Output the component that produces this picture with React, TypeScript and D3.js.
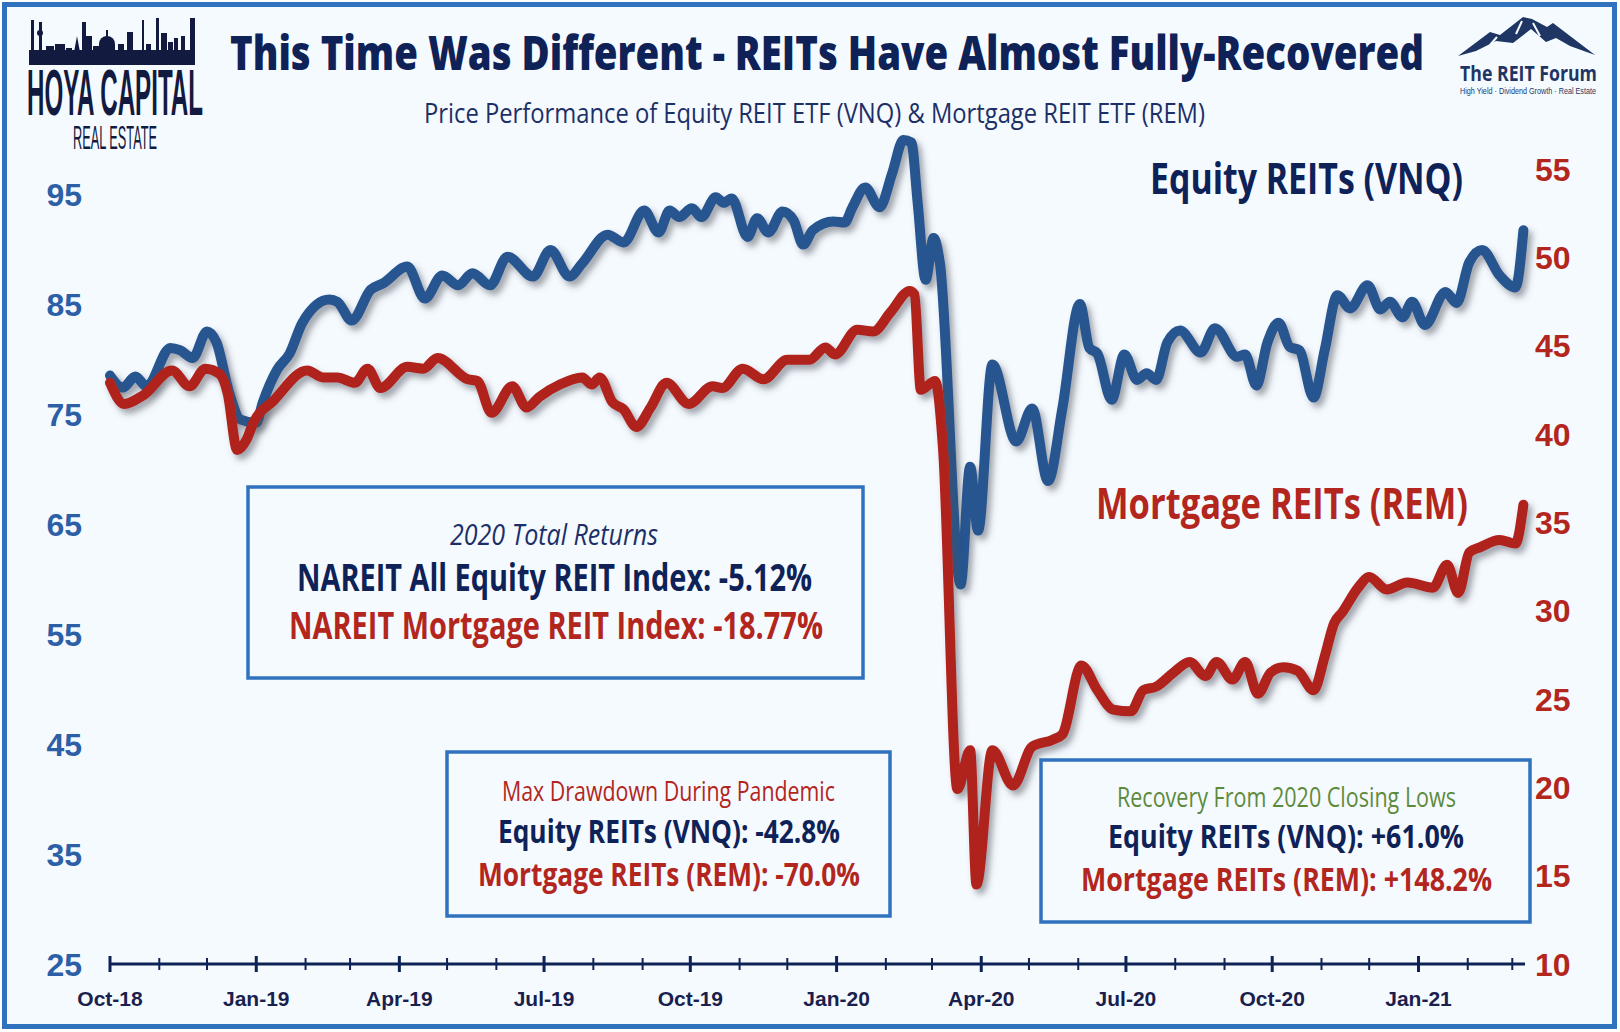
import React from "react";
import * as d3 from "d3";

// VNQ weekly-ish price (left axis)
const vnqDates = [
  "2018-10-01", "2018-10-09", "2018-10-17", "2018-10-24", "2018-11-08", "2018-11-14", "2018-11-22",
  "2018-12-01", "2018-12-07", "2018-12-15", "2018-12-22", "2019-01-01", "2019-01-05", "2019-01-14",
  "2019-01-22", "2019-01-30", "2019-02-16", "2019-02-21", "2019-03-02", "2019-03-14", "2019-03-22",
  "2019-04-06", "2019-04-17", "2019-04-28", "2019-05-08", "2019-05-17", "2019-05-28", "2019-06-08",
  "2019-06-24", "2019-07-05", "2019-07-17", "2019-07-25", "2019-08-10", "2019-08-20", "2019-09-02",
  "2019-09-11", "2019-09-18", "2019-09-24", "2019-10-02", "2019-10-08", "2019-10-17", "2019-10-22",
  "2019-10-27", "2019-11-06", "2019-11-12", "2019-11-19", "2019-11-28", "2019-12-05", "2019-12-11",
  "2019-12-17", "2019-12-30", "2020-01-06", "2020-01-11", "2020-01-19", "2020-01-28", "2020-02-05",
  "2020-02-12", "2020-02-17", "2020-02-21", "2020-02-26", "2020-03-02", "2020-03-06", "2020-03-19",
  "2020-03-25", "2020-03-30", "2020-04-08", "2020-04-23", "2020-05-03", "2020-05-13", "2020-05-22",
  "2020-06-02", "2020-06-08", "2020-06-13", "2020-06-22", "2020-06-30", "2020-07-08", "2020-07-14",
  "2020-07-20", "2020-07-27", "2020-08-04", "2020-08-17", "2020-08-26", "2020-09-09", "2020-09-14",
  "2020-09-21", "2020-09-28", "2020-10-05", "2020-10-12", "2020-10-18", "2020-10-27", "2020-11-03",
  "2020-11-11", "2020-11-19", "2020-11-30", "2020-12-08", "2020-12-14", "2020-12-22", "2020-12-28",
  "2021-01-05", "2021-01-18", "2021-01-25", "2021-02-02", "2021-02-10", "2021-02-21", "2021-03-03",
  "2021-03-08",
];
const vnqValues = [
  78.5, 77.4, 78.4, 77.5, 81.0, 80.8, 80.1,
  82.5, 81.5, 76.9, 74.5, 74.2, 76.0, 79.0,
  80.5, 83.3, 85.4, 85.2, 83.5, 86.3, 86.9,
  88.4, 85.5, 87.6, 86.7, 87.8, 86.7, 89.3,
  87.5, 89.9, 87.5, 88.7, 91.3, 90.6, 93.5,
  91.5, 93.5, 92.9, 93.7, 92.9, 94.7, 94.2,
  94.6, 91.1, 92.8, 91.5, 93.4, 92.6, 90.4,
  91.7, 92.5, 92.4, 93.8, 95.6, 93.8, 96.9,
  99.9, 99.7, 94.2, 87.2, 91.0, 88.7, 59.5,
  70.2, 64.4, 79.5, 72.5, 75.5, 68.9, 75.5,
  85.0, 81.0, 80.5, 76.3, 80.4, 78.1, 78.7,
  78.1, 81.5, 82.6, 80.6, 82.8, 80.2, 80.4,
  77.6, 81.5, 83.3, 81.1, 80.8, 76.5, 80.8,
  85.8, 84.6, 86.7, 84.5, 85.2, 83.8, 85.2,
  83.1, 86.1, 85.1, 88.8, 89.9, 87.6, 86.5,
  91.7,
];

// REM weekly-ish price (right axis)
const remDates = [
  "2018-10-01", "2018-10-10", "2018-10-22", "2018-11-09", "2018-11-20", "2018-11-30", "2018-12-09",
  "2018-12-14", "2018-12-20", "2018-12-26", "2018-12-30", "2019-01-12", "2019-02-02", "2019-02-12",
  "2019-02-21", "2019-03-04", "2019-03-12", "2019-03-20", "2019-04-06", "2019-04-16", "2019-04-25",
  "2019-05-14", "2019-05-20", "2019-05-29", "2019-06-11", "2019-06-20", "2019-06-28", "2019-07-11",
  "2019-07-25", "2019-07-31", "2019-08-05", "2019-08-13", "2019-08-20", "2019-08-28", "2019-09-06",
  "2019-09-16", "2019-09-30", "2019-10-15", "2019-10-21", "2019-11-03", "2019-11-16", "2019-12-01",
  "2019-12-15", "2019-12-25", "2019-12-31", "2020-01-14", "2020-01-24", "2020-02-04", "2020-02-16",
  "2020-02-19", "2020-02-23", "2020-03-03", "2020-03-08", "2020-03-17", "2020-03-25", "2020-03-29",
  "2020-04-08", "2020-04-21", "2020-05-03", "2020-05-16", "2020-05-22", "2020-06-03", "2020-06-13",
  "2020-06-23", "2020-07-04", "2020-07-12", "2020-07-20", "2020-07-31", "2020-08-10", "2020-08-20",
  "2020-08-27", "2020-09-06", "2020-09-14", "2020-09-22", "2020-09-30", "2020-10-08", "2020-10-17",
  "2020-10-27", "2020-11-03", "2020-11-09", "2020-11-14", "2020-11-24", "2020-12-01", "2020-12-12",
  "2020-12-25", "2021-01-10", "2021-01-19", "2021-01-26", "2021-02-02", "2021-02-09", "2021-02-21",
  "2021-03-03", "2021-03-08",
];
const remValues = [
  42.9, 41.7, 42.2, 43.6, 42.7, 43.7, 43.4,
  42.3, 39.1, 39.7, 40.6, 41.9, 43.6, 43.2,
  43.2, 42.9, 43.7, 42.6, 43.8, 43.7, 44.3,
  43.1, 43.0, 41.2, 42.7, 41.5, 42.1, 42.8,
  43.2, 42.8, 43.2, 41.8, 41.4, 40.4, 41.5,
  42.9, 41.7, 42.7, 42.6, 43.7, 43.1, 44.2,
  44.2, 44.9, 44.5, 45.9, 45.8, 46.9, 48.1,
  47.9, 42.5, 43.0, 39.1, 19.9, 22.1, 14.5,
  22.1, 20.1, 22.3, 22.7, 23.0, 26.9, 25.5,
  24.4, 24.3, 25.5, 25.7, 26.5, 27.1, 26.3,
  27.1, 26.1, 27.1, 25.3, 26.5, 26.8, 26.6,
  25.5, 27.4, 29.3, 29.9, 31.3, 31.9, 31.2,
  31.6, 31.3, 32.6, 31.0, 33.3, 33.6, 34.0,
  33.8, 36.0,
];

const leftTicks = [25, 35, 45, 55, 65, 75, 85, 95];
const rightTicks = [10, 15, 20, 25, 30, 35, 40, 45, 50, 55];

const NAVY = "#0f2257";
const BLUE = "#27558f";
const RED = "#b0231c";
const RED_TXT = "#b3261e";
const FRAME = "#3072bd";
const BG = "#f5faff";
const SANS = "'Open Sans', 'Noto Sans', sans-serif";
const NARROW = "'Liberation Sans Narrow', 'Liberation Sans', Arial, sans-serif";

// skyline of the Hoya logo: [x, width, top]
const skyline: [number, number, number][] = [
  [31, 3, 20], [39, 3, 22], [46, 8, 46], [55, 10, 44], [66, 6, 48], [82, 4, 22], [86, 6, 36],
  [93, 6, 46], [118, 6, 44], [127, 6, 32], [142, 2, 20], [146, 5, 44], [156, 3, 18], [161, 6, 33],
  [168, 5, 42], [174, 4, 38], [181, 4, 36], [190, 5, 18],
];

function App() {
  const parse = d3.timeParse("%Y-%m-%d");
  const x = d3
    .scaleTime()
    .domain([parse("2018-10-01") as Date, parse("2021-03-09") as Date])
    .range([110, 1525]);
  const yL = d3.scaleLinear().domain([25, 95]).range([964, 194]);
  const yR = d3.scaleLinear().domain([10, 55]).range([964, 169]);

  const vnqLine = d3
    .line<number>()
    .x((_, i) => x(parse(vnqDates[i]) as Date))
    .y((d) => yL(d))
    .curve(d3.curveMonotoneX)(vnqValues);
  const remLine = d3
    .line<number>()
    .x((_, i) => x(parse(remDates[i]) as Date))
    .y((d) => yR(d))
    .curve(d3.curveMonotoneX)(remValues);

  const months = d3.timeMonth.range(parse("2018-10-01") as Date, parse("2021-03-02") as Date);
  const fmt = d3.timeFormat("%b-%y");
  const axisY = 964;

  return (
    <svg
      width={1620}
      height={1032}
      style={{ position: "absolute", left: 0, top: 0, display: "block" }}
    >
      <defs>
        <filter id="shadow" x="-5%" y="-10%" width="110%" height="125%">
          <feDropShadow dx="4" dy="5" stdDeviation="3" floodColor="#4a4f5a" floodOpacity="0.5" />
        </filter>
      </defs>
      <rect x={4.5} y={4.5} width={1610} height={1022} fill={BG} stroke={FRAME} strokeWidth={5} />

      {/* Hoya Capital logo */}
      <g fill="#131a40">
        <rect x={29} y={50} width={166} height={15} />
        {skyline.map(([bx, bw, top], i) => (
          <rect key={i} x={bx} y={top} width={bw} height={52 - top} />
        ))}
        <ellipse cx={107} cy={44} rx={8} ry={8} />
        <rect x={99} y={44} width={16} height={8} />
        <rect x={106} y={30} width={2} height={8} />
        <circle cx={40} cy={33} r={3} />
        <path d="M74 52 L77 36 L80 52 Z" />
      </g>
      <text
        x={27}
        y={115}
        fontFamily={NARROW}
        fontWeight={700}
        fontSize={64}
        fill="#131a40"
        textLength={176}
        lengthAdjust="spacingAndGlyphs"
      >
        HOYA CAPITAL
      </text>
      <text
        x={73}
        y={149}
        fontFamily={NARROW}
        fontWeight={400}
        fontSize={34}
        fill="#131a40"
        textLength={84}
        lengthAdjust="spacingAndGlyphs"
      >
        REAL ESTATE
      </text>

      {/* REIT Forum logo */}
      <path
        d="M1458 56 L1490 32 L1500 35 L1523 17 L1532 19 L1547 27 L1553 23 L1595 55 L1570 46 L1556 38 L1546 42 L1531 29 L1513 43 L1496 41 L1476 51 Z"
        fill="#1f3563"
      />
      <path d="M1522 21 L1516 34 M1533 23 L1540 36 M1497 37 L1490 45" stroke={BG} strokeWidth={2} />
      <text
        x={1460}
        y={81}
        fontFamily={SANS}
        fontWeight={700}
        fontSize={22}
        fill="#1f3563"
        textLength={137}
        lengthAdjust="spacingAndGlyphs"
      >
        The REIT Forum
      </text>
      <text
        x={1460}
        y={94}
        fontFamily={NARROW}
        fontSize={9}
        fill="#1f3563"
        textLength={136}
        lengthAdjust="spacingAndGlyphs"
      >
        High Yield · Dividend Growth · Real Estate
      </text>

      {/* titles */}
      <text
        x={230}
        y={70}
        fontFamily={SANS}
        fontWeight={800}
        fontSize={48}
        fill={NAVY}
        textLength={1194}
        lengthAdjust="spacingAndGlyphs"
      >
        This Time Was Different - REITs Have Almost Fully-Recovered
      </text>
      <text
        x={424}
        y={123}
        fontFamily={SANS}
        fontWeight={400}
        fontSize={28}
        fill="#1c2f66"
        textLength={781}
        lengthAdjust="spacingAndGlyphs"
      >
        Price Performance of Equity REIT ETF (VNQ) &amp; Mortgage REIT ETF (REM)
      </text>

      {/* y axes labels */}
      {leftTicks.map((t) => (
        <text
          key={"l" + t}
          x={82}
          y={yL(t)}
          dy="0.36em"
          textAnchor="end"
          fontFamily={NARROW}
          fontWeight={700}
          fontSize={32}
          fill="#2d5fa6"
        >
          {t}
        </text>
      ))}
      {rightTicks.map((t) => (
        <text
          key={"r" + t}
          x={1535}
          y={yR(t)}
          dy="0.36em"
          fontFamily={NARROW}
          fontWeight={700}
          fontSize={32}
          fill={RED_TXT}
        >
          {t}
        </text>
      ))}

      {/* x axis */}
      <line x1={110} x2={1525} y1={axisY} y2={axisY} stroke={NAVY} strokeWidth={3} />
      {months.map((m, i) => {
        const major = m.getMonth() % 3 === 0;
        return (
          <g key={i}>
            <line
              x1={x(m)}
              x2={x(m)}
              y1={axisY - (major ? 8 : 6)}
              y2={axisY + (major ? 8 : 6)}
              stroke={NAVY}
              strokeWidth={major ? 3 : 2}
            />
            {major && (
              <text
                x={x(m)}
                y={1006}
                textAnchor="middle"
                fontFamily={NARROW}
                fontWeight={700}
                fontSize={21}
                fill="#1a1f4d"
              >
                {fmt(m)}
              </text>
            )}
          </g>
        );
      })}

      {/* series */}
      <path
        d={vnqLine || ""}
        fill="none"
        stroke={BLUE}
        strokeWidth={10}
        strokeLinejoin="round"
        strokeLinecap="round"
        filter="url(#shadow)"
      />
      <path
        d={remLine || ""}
        fill="none"
        stroke={RED}
        strokeWidth={10}
        strokeLinejoin="round"
        strokeLinecap="round"
        filter="url(#shadow)"
      />

      {/* series labels */}
      <text
        x={1150}
        y={194}
        fontFamily={SANS}
        fontWeight={700}
        fontSize={43}
        fill={NAVY}
        textLength={313}
        lengthAdjust="spacingAndGlyphs"
      >
        Equity REITs (VNQ)
      </text>
      <text
        x={1096}
        y={519}
        fontFamily={SANS}
        fontWeight={700}
        fontSize={43}
        fill={RED_TXT}
        textLength={372}
        lengthAdjust="spacingAndGlyphs"
      >
        Mortgage REITs (REM)
      </text>

      {/* annotation boxes */}
      <rect x={248} y={487} width={615} height={191} fill={BG} stroke={FRAME} strokeWidth={3.5} />
      <text x={450} y={545} fontFamily={SANS} fontStyle="italic" fontSize={30} fill="#1c2f66" textLength={208} lengthAdjust="spacingAndGlyphs">
        2020 Total Returns
      </text>
      <text x={297} y={591} fontFamily={SANS} fontWeight={700} fontSize={37} fill={NAVY} textLength={515} lengthAdjust="spacingAndGlyphs">
        NAREIT All Equity REIT Index: -5.12%
      </text>
      <text x={289} y={639} fontFamily={SANS} fontWeight={700} fontSize={37} fill={RED_TXT} textLength={534} lengthAdjust="spacingAndGlyphs">
        NAREIT Mortgage REIT Index: -18.77%
      </text>

      <rect x={447} y={752} width={443} height={164} fill={BG} stroke={FRAME} strokeWidth={3.5} />
      <text x={502} y={801} fontFamily={SANS} fontSize={28} fill={RED_TXT} textLength={333} lengthAdjust="spacingAndGlyphs">
        Max Drawdown During Pandemic
      </text>
      <text x={498} y={843} fontFamily={SANS} fontWeight={700} fontSize={33} fill={NAVY} textLength={342} lengthAdjust="spacingAndGlyphs">
        Equity REITs (VNQ): -42.8%
      </text>
      <text x={478} y={886} fontFamily={SANS} fontWeight={700} fontSize={33} fill={RED_TXT} textLength={382} lengthAdjust="spacingAndGlyphs">
        Mortgage REITs (REM): -70.0%
      </text>

      <rect x={1041} y={760} width={489} height={162} fill={BG} stroke={FRAME} strokeWidth={3.5} />
      <text x={1117} y={807} fontFamily={SANS} fontSize={28} fill="#5e8a3c" textLength={339} lengthAdjust="spacingAndGlyphs">
        Recovery From 2020 Closing Lows
      </text>
      <text x={1108} y={848} fontFamily={SANS} fontWeight={700} fontSize={33} fill={NAVY} textLength={356} lengthAdjust="spacingAndGlyphs">
        Equity REITs (VNQ): +61.0%
      </text>
      <text x={1081} y={891} fontFamily={SANS} fontWeight={700} fontSize={33} fill={RED_TXT} textLength={411} lengthAdjust="spacingAndGlyphs">
        Mortgage REITs (REM): +148.2%
      </text>
    </svg>
  );
}

export default App;
